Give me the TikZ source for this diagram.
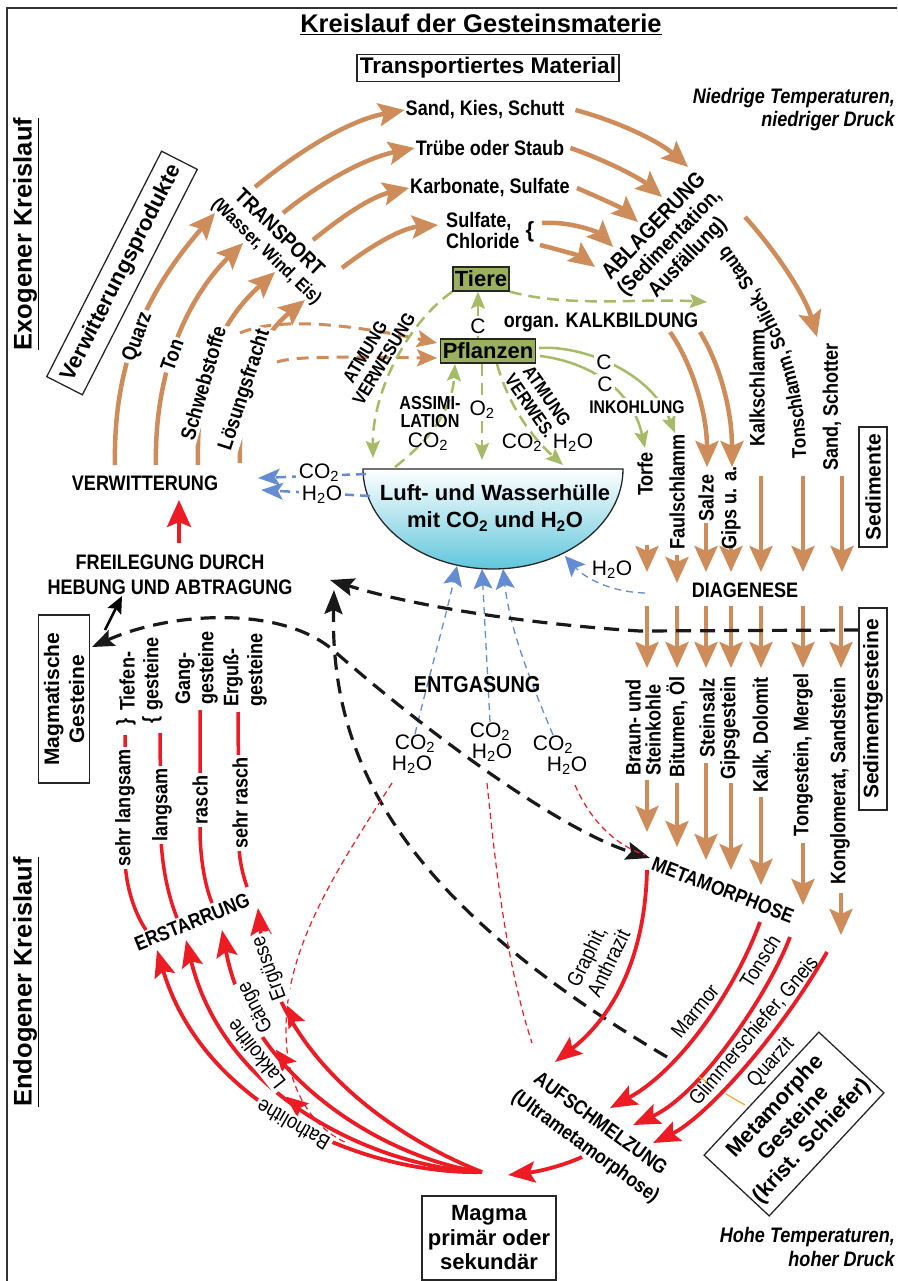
\documentclass[tikz,border=0pt]{standalone}
\usepackage{fontspec}
\setmainfont{Liberation Sans}[FakeStretch=0.86]
\newfontfamily\wide{Liberation Sans}
\usetikzlibrary{arrows.meta}
\usetikzlibrary{decorations.markings,decorations.text}
\definecolor{brn}{RGB}{206,140,90}
\definecolor{grn}{RGB}{166,187,104}
\definecolor{oliv}{RGB}{155,176,95}
\definecolor{rd}{RGB}{237,28,36}
\definecolor{blu}{RGB}{100,140,210}
\definecolor{wat}{RGB}{95,198,220}
\definecolor{gold}{RGB}{245,170,40}
\newcommand\fsz[1]{\fontsize{#1}{#1}\selectfont}
\newcommand\cotwo{CO\textsubscript{2}}
\newcommand\hto{H\textsubscript{2}O}
\pgfdeclarelayer{bg}
\pgfsetlayers{bg,main}

\begin{document}
\begin{tikzpicture}[x=1pt,y=-1pt,
  lab/.style={font=\bfseries\fsz{21},inner sep=1pt},
  rlab/.style={font=\fsz{21},inner sep=1pt},
  chem/.style={font=\wide\fsz{21},inner sep=1pt},
  wht/.style={fill=white,inner sep=2.5pt},
  tbox/.style={draw=black!85,line width=1.3pt,font=\wide\bfseries\fontsize{22}{25}\selectfont,inner sep=3pt},
  gbox/.style={draw=black!85,fill=oliv,line width=1.3pt,font=\wide\bfseries\fsz{22},inner sep=2pt,minimum height=24pt},
  brarr/.style={draw=brn,line width=4.5pt,-{Stealth[length=26pt,width=23pt,inset=5pt]}},
  ordash/.style={draw=brn,line width=3pt,dash pattern=on 12pt off 8pt,-{Stealth[length=20pt,width=17pt,inset=4pt]}},
  grarr/.style={draw=grn,line width=2.5pt,dash pattern=on 12pt off 7pt,-{Stealth[length=17pt,width=14pt,inset=3pt]}},
  grsol/.style={draw=grn,line width=2.5pt,-{Stealth[length=17pt,width=14pt,inset=3pt]}},
  bluarr/.style={draw=blu,line width=2.5pt,dash pattern=on 10pt off 6pt,-{Stealth[length=22pt,width=17pt,inset=5pt]}},
  bluthin/.style={draw=blu,line width=1.3pt,dash pattern=on 7pt off 5pt,-{Stealth[length=20pt,width=19pt,inset=4pt]}},
  blkdash/.style={draw=black!90,line width=3.2pt,dash pattern=on 15pt off 9pt},
  rdarr/.style={draw=rd,line width=3.8pt,-{Stealth[length=27pt,width=21pt,inset=5pt]}},
  rdline/.style={draw=rd,line width=3.5pt},
  rdthin/.style={draw=rd,line width=1.2pt,dash pattern=on 6pt off 4pt},
  midarr/.style={postaction={decorate},decoration={markings,mark=at position #1 with {\arrow{Stealth[length=22pt,width=18pt,inset=4pt]}}}}
]
\useasboundingbox (0,0) rectangle (897,1281);
\draw[line width=1.3pt,black!80] (7,1281) -- (7,8) -- (897,8);

\node[font=\wide\bfseries\fsz{25.5}] (tit) at (481,24) {\underline{Kreislauf der Gesteinsmaterie}};
\node[tbox,font=\wide\bfseries\fsz{22.6}] (trm) at (488,68) {Transportiertes Material};
\node[font=\bfseries\itshape\fontsize{21}{23}\selectfont,align=right,anchor=east,inner sep=0pt] (nie) at (895,110) {Niedrige Temperaturen,\\niedriger Druck};
\node[font=\wide\bfseries\fsz{25.5},rotate=90] (exo) at (26,234) {\underline{Exogener Kreislauf}};
\node[font=\wide\bfseries\fsz{25.5},rotate=90] (endo) at (26,982) {\underline{Endogener Kreislauf}};
\node[tbox,rotate=63,minimum width=253pt,minimum height=40pt] (vwp) at (122,273) {Verwitterungsprodukte};

\node[lab] (sks) at (485,110) {Sand, Kies, Schutt};
\node[lab] (tos) at (490,148) {Trübe oder Staub};
\node[lab] (kas) at (490,188) {Karbonate, Sulfate};
\node[lab,align=left,anchor=west,font=\bfseries\fontsize{21}{21}\selectfont] (suc) at (445,230) {Sulfate,\\Chloride};
\node[font=\wide\bfseries\fsz{22},inner sep=0pt] (brc) at (530,232) {\{};
\node[lab,rotate=-44,font=\bfseries\fsz{21.5}] (trp1) at (280,232) {TRANSPORT};
\node[lab,rotate=-44,font=\bfseries\fsz{18.3}] (trp2) at (266,252) {(Wasser, Wind, Eis)};
\node[lab,rotate=46,font=\bfseries\fsz{22.4}] (abl1) at (653,225) {ABLAGERUNG};
\node[lab,rotate=46,font=\bfseries\fsz{21.5}] (abl2) at (670,243) {(Sedimentation,};
\node[lab,rotate=46,font=\bfseries\fsz{21.5}] (abl3) at (688,258) {Ausfällung)};
\node[lab] (vwt) at (145,483) {VERWITTERUNG};
\node[lab,align=center,font=\bfseries\fontsize{21}{25}\selectfont] (frl) at (170,575) {FREILEGUNG DURCH\\HEBUNG UND ABTRAGUNG};
\node[tbox,rotate=90,align=center,minimum width=168pt,minimum height=51pt,font=\wide\bfseries\fontsize{21}{25}\selectfont] (mgg) at (64,699) {Magmatische\\Gesteine};

\node[lab,wht,rotate=70] (qrz) at (138,337) {Quarz};
\node[lab,wht,rotate=70] (tn) at (172,355) {Ton};
\node[lab,wht,rotate=74] (swb) at (203,383) {Schwebstoffe};
\node[lab,wht,rotate=72] (lsf) at (245,390) {Lösungsfracht};

\node[gbox] (tie) at (481,279) {Tiere};
\node[gbox] (pfl) at (488,351) {Pflanzen};
\node[lab] (kal) at (601,322) {organ. KALKBILDUNG};
\node[lab,rotate=59,font=\bfseries\fsz{18.5}] (atl1) at (365,352) {ATMUNG};
\node[lab,rotate=59,font=\bfseries\fsz{18.5}] (atl2) at (384,359) {VERWESUNG};
\node[lab,rotate=-55,font=\bfseries\fsz{18.5}] (atr1) at (547,396) {ATMUNG};
\node[lab,rotate=-55,font=\bfseries\fsz{18.5}] (atr2) at (530,406) {VERWES.};
\node[lab,align=center,font=\bfseries\fontsize{18.8}{18}\selectfont] (ass) at (430,412) {ASSIMI-\\LATION};
\node[chem] (co2a) at (428,442) {\cotwo};
\node[chem,wht] (oxy) at (482,410) {O\textsubscript{2}};
\node[chem] (co2b) at (522,443) {\cotwo};
\node[chem] (h2ob) at (573,443) {\hto};
\node[chem,wht] (cc1) at (478,326) {C};
\node[chem,wht] (cc2) at (604,362) {C};
\node[chem,wht] (cc3) at (605,384) {C};
\node[lab,wht,font=\bfseries\fsz{18.3}] (ink) at (637,407) {INKOHLUNG};

\node[font=\wide\bfseries\fontsize{22}{27}\selectfont,align=center] (luf) at (495,508) {Luft- und Wasserhülle\\mit \cotwo{} und \hto};
\node[chem,wht] (cv) at (319,473) {\cotwo};
\node[chem,wht] (hv) at (322,495) {\hto};
\node[chem] (hd) at (612,570) {\hto};
\node[lab] (dia) at (745,590) {DIAGENESE};
\node[lab,font=\bfseries\fsz{23}] (ent) at (477,685) {ENTGASUNG};
\node[chem] (e1c) at (415,744) {\cotwo};
\node[chem] (e1h) at (412,765) {\hto};
\node[chem] (e2c) at (490,732) {\cotwo};
\node[chem] (e2h) at (492,753) {\hto};
\node[chem] (e3c) at (553,745) {\cotwo};
\node[chem] (e3h) at (567,766) {\hto};

\node[lab,rotate=90] (tor) at (645,474) {Torfe};
\node[lab,rotate=90] (fsl) at (677,492) {Faulschlamm};
\node[lab,rotate=90] (slz) at (706,498) {Salze};
\node[lab,rotate=90] (gip) at (731,508) {Gips u. a.};
\node[lab,rotate=90] (kls) at (757,388) {Kalkschlamm};
\node[lab,rotate=90] (ssc) at (832,407) {Sand, Schotter};
\path[decorate,decoration={text along path,text align=center,text={|\bfseries\fsz{19.9}|Tonschlamm, Schlick, Staub}}] (806,468) .. controls (807,380) and (786,322) .. (722,238);
\node[tbox,rotate=90,minimum width=120pt,minimum height=28pt,inner sep=1pt,font=\wide\bfseries\fsz{21}] (sed) at (873,487) {Sedimente};
\node[tbox,rotate=90,minimum width=202pt,minimum height=28pt,inner sep=1pt,font=\wide\bfseries\fsz{21}] (sdg) at (873,709) {Sedimentgesteine};

\node[lab,rotate=90,align=left,anchor=west,font=\bfseries\fontsize{21}{20}\selectfont] (brk) at (643,777) {Braun- und\\Steinkohle};
\node[lab,rotate=90] (bit) at (677,727) {Bitumen, Öl};
\node[lab,rotate=90] (sts) at (707,718) {Steinsalz};
\node[lab,rotate=90] (gps) at (730,728) {Gipsgestein};
\node[lab,rotate=90] (kdo) at (762,735) {Kalk, Dolomit};
\node[lab,rotate=90] (tgm) at (803,755) {Tongestein, Mergel};
\node[lab,rotate=90] (kss) at (840,781) {Konglomerat, Sandstein};

\node[lab,rotate=-21,font=\bfseries\fsz{20.3}] (met) at (723,890) {METAMORPHOSE};
\node[lab,rotate=-36,font=\bfseries\fsz{20.3}] (auf1) at (601,1123) {AUFSCHMELZUNG};
\node[lab,rotate=-36,font=\bfseries\fsz{20.3}] (auf2) at (585,1147) {(Ultrametamorphose)};
\node[lab,rotate=22,font=\bfseries\fsz{20.3}] (ers) at (192,922) {ERSTARRUNG};
\node[tbox,align=center,minimum width=134pt,minimum height=84pt,font=\wide\bfseries\fontsize{22}{24.5}\selectfont] (mag) at (489,1238) {Magma\\primär oder\\sekundär};
\node[tbox,rotate=47,align=center,minimum width=164pt,minimum height=89pt,font=\wide\bfseries\fontsize{22}{25}\selectfont] (mgs) at (794,1124) {Metamorphe\\Gesteine\\(krist. Schiefer)};
\node[font=\bfseries\itshape\fontsize{21}{24}\selectfont,align=right,anchor=east,inner sep=0pt] (hoh) at (895,1247) {Hohe Temperaturen,\\hoher Druck};

\node[lab,rotate=90,anchor=west] (tf1) at (127,712) {Tiefen-};
\node[lab,rotate=90,anchor=west] (tf2) at (153,712) {gesteine};
\node[lab,rotate=90,anchor=west] (gg1) at (185,706) {Gang-};
\node[lab,rotate=90,anchor=west] (gg2) at (208,706) {gesteine};
\node[lab,rotate=90,anchor=west] (eg1) at (233,708) {Erguß-};
\node[lab,rotate=90,anchor=west] (eg2) at (257,708) {gesteine};
\node[lab,rotate=90,inner sep=0pt] (br1) at (126,722) {\}};
\node[lab,rotate=90,inner sep=0pt] (br2) at (152,720) {\{};
\node[lab,wht,rotate=90] (sl1) at (125,808) {sehr langsam};
\node[lab,wht,rotate=90] (sl2) at (162,805) {langsam};
\node[lab,wht,rotate=90] (ra1) at (200,800) {rasch};
\node[lab,wht,rotate=90] (ra2) at (240,803) {sehr rasch};

\node[rlab,wht,rotate=110] (erg) at (270,968) {Ergüsse};
\node[rlab,wht,rotate=117] (gae) at (256,1007) {Gänge};
\node[rlab,wht,rotate=128] (lak) at (256,1054) {Lakkolithe};
\node[rlab,wht,rotate=150] (bat) at (293,1125) {Batholithe};
\node[rlab,rotate=64,align=left,font=\fontsize{21}{23}\selectfont] (gra) at (598,958) {Graphit,\\Anthrazit};
\node[rlab,rotate=51] (mar) at (695,1011) {Marmor};
\node[rlab,rotate=58] (tsch) at (760,961) {Tonsch};
\node[rlab,rotate=50] (gli) at (754,1031) {Glimmerschiefer, Gneis};
\node[rlab,rotate=48] (qzt) at (771,1063) {Quarzit};

\coordinate (bw0) at (363,469); \coordinate (bw1) at (493,569); \coordinate (bw2) at (623,469);
\coordinate (qa) at (115,465); \coordinate (qb) at (215,213);
\coordinate (ta) at (156,465); \coordinate (tb) at (243,243);
\coordinate (sa) at (198,465); \coordinate (sb) at (275,272);
\coordinate (lfa) at (240,463); \coordinate (lfb) at (305,300);
\coordinate (u1) at (255,187); \coordinate (u2) at (283,213); \coordinate (u3) at (313,240);
\coordinate (u4) at (342,268); \coordinate (u4b) at (438,225);
\coordinate (ab1) at (688,167); \coordinate (ab2) at (662,197); \coordinate (ab3) at (638,222);
\coordinate (ab4a) at (542,223); \coordinate (ab4) at (613,247);
\coordinate (ab5a) at (540,245); \coordinate (ab5) at (595,267);
\coordinate (rsa) at (745,217); \coordinate (rsb) at (817,337);
\coordinate (kb1a) at (670,332); \coordinate (kb1b) at (707,467);
\coordinate (kb2a) at (700,332); \coordinate (kb2b) at (732,467);
\coordinate (o1a) at (240,333); \coordinate (o1b) at (437,343);
\coordinate (o2a) at (277,362); \coordinate (o2b) at (437,358);
\coordinate (g1) at (373,458); \coordinate (g2) at (707,302);
\coordinate (g4a) at (395,467); \coordinate (g4b) at (455,364);
\coordinate (g5) at (482,460);
\coordinate (g6a) at (497,364); \coordinate (g6b) at (563,465);
\coordinate (g7a) at (539,348); \coordinate (g7b) at (675,433);
\coordinate (g8a) at (540,356); \coordinate (g8b) at (645,448);
\coordinate (bl1) at (366,474); \coordinate (bv1) at (258,478);
\coordinate (bl2) at (370,496); \coordinate (bv2) at (261,490);
\coordinate (bd1) at (645,593); \coordinate (bd2) at (565,556);
\coordinate (bw3) at (457,566); \coordinate (bw4) at (482,569); \coordinate (bw5) at (503,569);
\coordinate (k1a) at (859,630); \coordinate (k1b) at (330,580);
\coordinate (k2a) at (667,1057); \coordinate (k2b) at (334,590);
\coordinate (k3a) at (92,647); \coordinate (k3b) at (650,858);
\coordinate (hb1) at (105,630); \coordinate (hb2) at (122,596);
\coordinate (fr1) at (179,543); \coordinate (fr2) at (179,500);
\coordinate (r1a) at (392,783); \coordinate (r1b) at (347,1143);
\coordinate (r2a) at (487,783); \coordinate (r2b) at (532,1043);
\coordinate (r3a) at (575,785); \coordinate (r3b) at (645,855);
\coordinate (m1a) at (647,870); \coordinate (m1b) at (555,1062);
\coordinate (m2a) at (760,922); \coordinate (m2b) at (610,1108);
\coordinate (m3a) at (790,937); \coordinate (m3b) at (633,1125);
\coordinate (m4a) at (827,952); \coordinate (m4b) at (653,1143);
\coordinate (au) at (582,1157); \coordinate (mg) at (508,1175);
\coordinate (mc) at (482,1172);
\coordinate (er1) at (258,908); \coordinate (er2) at (222,930); \coordinate (er3) at (186,940); \coordinate (er4) at (157,950);
\coordinate (c1a) at (125,735); \coordinate (c1b) at (125,862); \coordinate (c1c) at (146,930);
\coordinate (c2a) at (160,733); \coordinate (c2b) at (161,840); \coordinate (c2c) at (177,918);
\coordinate (c3a) at (200,710); \coordinate (c3b) at (200,835); \coordinate (c3c) at (212,903);
\coordinate (c4a) at (238,712); \coordinate (c4b) at (239,848); \coordinate (c4c) at (247,887);
\coordinate (qz1) at (699,1077); \coordinate (qz2) at (707,1082);
\coordinate (qz3) at (726,1094); \coordinate (qz4) at (745,1105);

\begin{pgfonlayer}{bg}
\draw[line width=1.3pt,draw=black!85,top color=white,bottom color=wat] (bw0) .. controls (363,524) and (421,569) .. (bw1) .. controls (565,569) and (623,524) .. (bw2) -- cycle;

\draw[brarr] (qa) .. controls (113,360) and (148,290) .. (qb);
\draw[brarr] (ta) .. controls (154,375) and (185,300) .. (tb);
\draw[brarr] (sa) .. controls (196,370) and (222,320) .. (sb);
\draw[brarr] (lfa) .. controls (238,380) and (262,335) .. (lfb);
\draw[brarr] (u1) .. controls (300,150) and (350,120) .. (sks.west);
\draw[brarr] (u2) .. controls (320,183) and (365,158) .. (tos.west);
\draw[brarr] (u3) .. controls (340,218) and (370,197) .. (kas.west);
\draw[brarr] (u4) .. controls (365,250) and (400,228) .. (u4b);
\draw[brarr] ([xshift=10pt]sks.east) .. controls (620,122) and (660,142) .. (ab1);
\draw[brarr] ([xshift=5pt]tos.east) .. controls (605,160) and (640,178) .. (ab2);
\draw[brarr] ([xshift=6pt]kas.east) .. controls (600,198) and (622,208) .. (ab3);
\draw[brarr] (ab4a) .. controls (570,221) and (598,232) .. (ab4);
\draw[brarr] (ab5a) .. controls (560,250) and (580,256) .. (ab5);
\draw[brarr] (rsa) .. controls (775,250) and (805,295) .. (rsb);
\draw[brarr] (kb1a) .. controls (690,360) and (707,410) .. (kb1b);
\draw[brarr] (kb2a) .. controls (720,365) and (732,410) .. (kb2b);
\foreach \n/\x/\a/\b in {1/647/545/572,2/677/555/583,3/706/523/572,4/731/545/572,5/761/476/572,6/803/476/572,7/842/476/572}{
  \coordinate (ca\n) at (\x,\a); \coordinate (cb\n) at (\x,\b);
  \draw[brarr] (ca\n) -- (cb\n);}
\foreach \n/\x in {1/647,2/677,3/706,4/731,5/761,6/803,7/841}{
  \coordinate (da\n) at (\x,606); \coordinate (db\n) at (\x,668);
  \draw[brarr] (da\n) -- (db\n);}
\foreach \n/\x/\a/\b in {1/647/780/832,2/677/783/847,3/706/763/860,4/731/783/870,5/761/797/885,6/803/843/905,7/841/893/935}{
  \coordinate (fa\n) at (\x,\a); \coordinate (fb\n) at (\x,\b);
  \draw[brarr] (fa\n) -- (fb\n);}
\draw[ordash] (o1a) .. controls (275,318) and (340,322) .. (o1b);
\draw[ordash] (o2a) .. controls (295,356) and (340,357) .. (o2b);

\draw[grarr] (tie.south west) .. controls (405,325) and (372,395) .. (g1);
\draw[grarr] (tie.south east) .. controls (570,308) and (640,298) .. (g2);
\draw[grsol] (pfl.north -| cc1) -- (tie.south -| cc1);
\draw[grarr] (g4a) .. controls (430,440) and (452,410) .. (g4b);
\draw[grarr] (pfl.south -| oxy) -- (g5);
\draw[grarr] (g6a) .. controls (510,410) and (535,440) .. (g6b);
\draw[grsol] (g7a) .. controls (580,345) and (650,370) .. (g7b);
\draw[grsol] (g8a) .. controls (575,360) and (630,380) .. (g8b);

\draw[bluarr] (bl1) -- (bv1);
\draw[bluarr] (bl2) -- (bv2);
\draw[bluthin] (bd1) .. controls (610,592) and (585,578) .. (bd2);
\draw[bluthin] (e1c.north) .. controls (428,680) and (445,620) .. (bw3);
\draw[bluthin] (e2c.north) -- (bw4);
\draw[bluthin] (e3c.north) .. controls (530,680) and (510,630) .. (bw5);

\draw[blkdash,-{Stealth[length=24pt,width=18pt,inset=4pt]}] (k1a) -- (640,631) .. controls (540,625) and (420,608) .. (k1b);
\draw[blkdash,-{Stealth[length=24pt,width=18pt,inset=4pt]}] (k2a) .. controls (400,900) and (330,760) .. (k2b);
\draw[blkdash,{Stealth[length=22pt,width=17pt,inset=4pt]}-{Stealth[length=24pt,width=18pt,inset=4pt]}] (k3a) .. controls (170,612) and (280,605) .. (333,650) .. controls (430,735) and (560,830) .. (k3b);
\draw[line width=2.5pt,-{Stealth[length=17pt,width=15pt,inset=3pt]}] (hb1) -- (hb2);

\draw[rdarr,-{Stealth[length=27pt,width=24pt,inset=5pt]}] (fr1) -- (fr2);
\draw[rdthin] (r1a) .. controls (330,880) and (278,960) .. (287,1050) .. controls (292,1100) and (320,1132) .. (r1b);
\draw[rdthin] (r2a) .. controls (495,860) and (505,960) .. (r2b);
\draw[rdthin] (r3a) .. controls (590,820) and (615,845) .. (r3b);
\draw[rdarr] (m1a) .. controls (645,955) and (615,1015) .. (m1b);
\draw[rdarr] (m2a) .. controls (735,990) and (680,1070) .. (m2b);
\draw[rdarr] (m3a) .. controls (768,995) and (700,1095) .. (m3b);
\draw[rdarr] (m4a) .. controls (780,1035) and (705,1118) .. (m4b);
\draw[rdarr] (au) .. controls (560,1167) and (535,1172) .. (mg);
\draw[rdarr,midarr=0.72] (mc) .. controls (400,1140) and (275,1060) .. (er1);
\draw[rdarr,midarr=0.65] (mc) .. controls (390,1160) and (250,1080) .. (er2);
\draw[rdarr,midarr=0.53] (mc) .. controls (380,1168) and (225,1100) .. (er3);
\draw[rdarr] (mc) .. controls (370,1175) and (205,1110) .. (er4);
\draw[rdline] (c1a) -- (c1b) .. controls (127,895) and (138,918) .. (c1c);
\draw[rdline] (c2a) -- (c2b) .. controls (163,875) and (170,900) .. (c2c);
\draw[rdline] (c3a) -- (c3b) .. controls (201,865) and (206,888) .. (c3c);
\draw[rdline] (c4a) -- (c4b) .. controls (240,865) and (244,878) .. (c4c);
\end{pgfonlayer}
\draw[gold,line width=1.2pt] (qz1) -- (qz2);
\draw[gold,line width=1.2pt] (qz3) -- (qz4);
\end{tikzpicture}
\end{document}
